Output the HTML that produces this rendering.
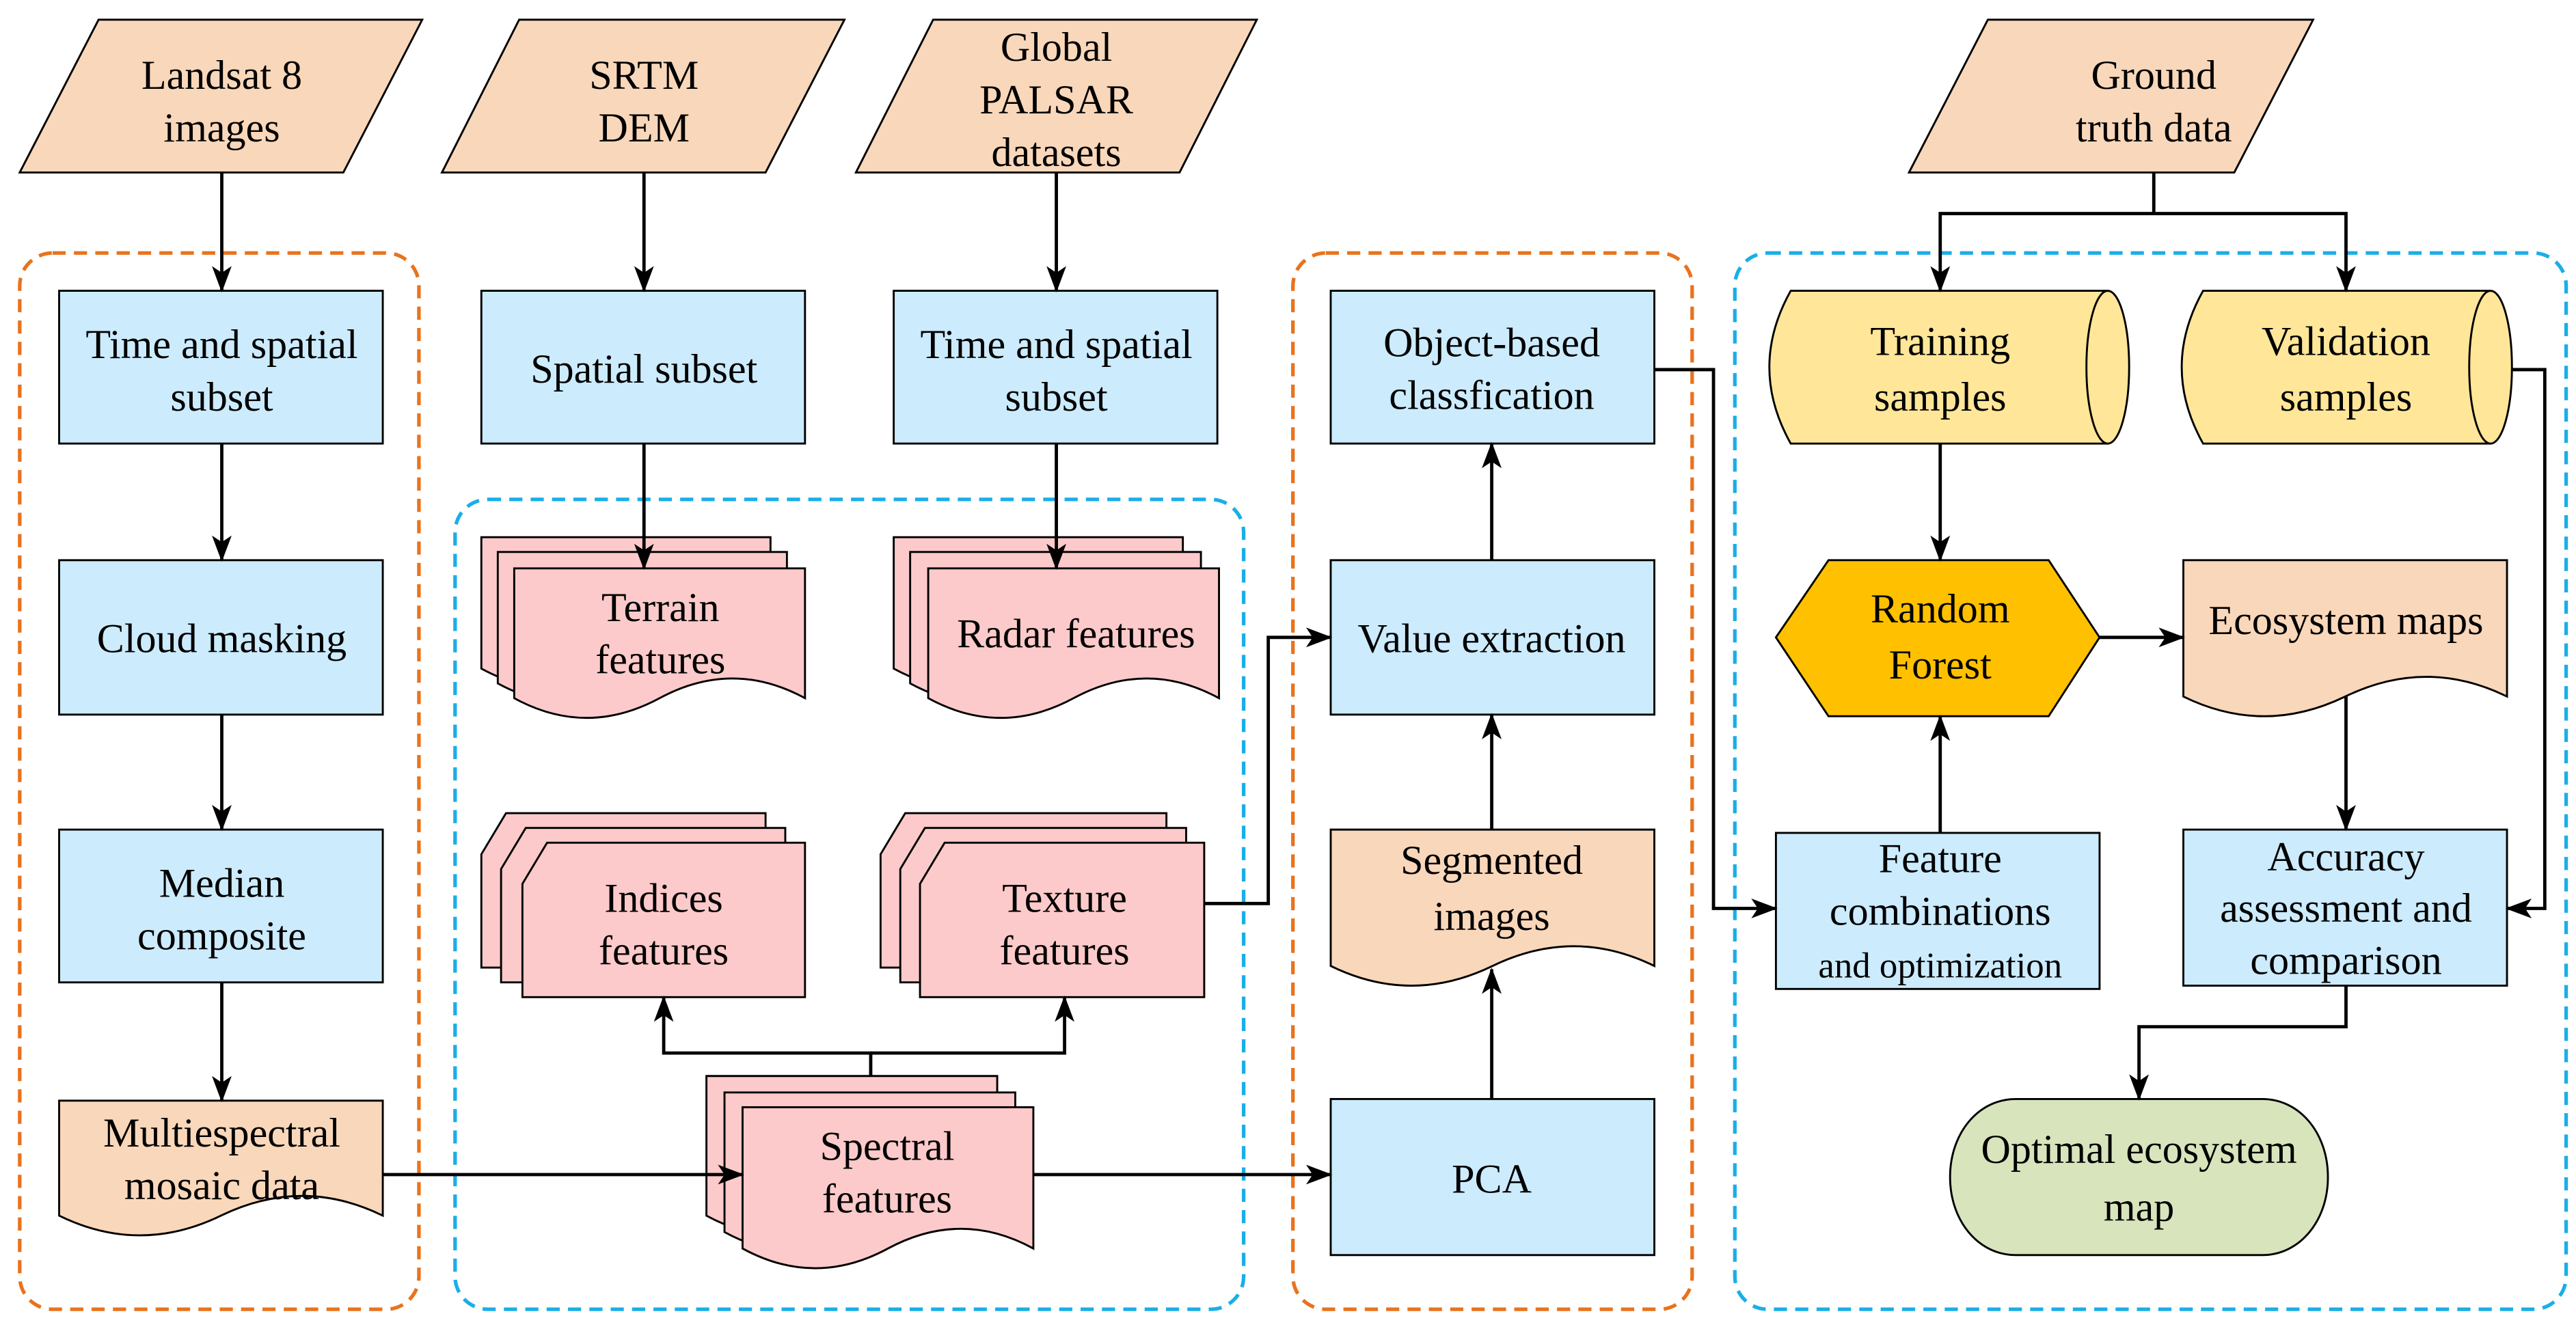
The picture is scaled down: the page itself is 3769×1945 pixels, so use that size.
<!DOCTYPE html>
<html><head><meta charset="utf-8"><style>
html,body{margin:0;padding:0;background:#fff}
svg{display:block}
text{font-family:"Liberation Serif","DejaVu Serif","Noto Serif CJK SC","Times New Roman",serif;font-size:25px;fill:#000;text-anchor:middle}
</style></head><body>
<svg width="3769" height="1945" viewBox="0 0 1568 809" preserveAspectRatio="none" xmlns="http://www.w3.org/2000/svg">
<defs>
<marker id="a" markerWidth="16" markerHeight="12" refX="15" refY="6" orient="auto" markerUnits="userSpaceOnUse">
<path d="M0,0 L16,6 L0,12 L4,6 Z" fill="#000"/></marker>
</defs>
<g fill="none" stroke-width="2.2" stroke-dasharray="8,5">
<rect x="12" y="154" width="243" height="643" rx="20" stroke="#E8731E"/>
<rect x="787" y="154" width="243" height="643" rx="20" stroke="#E8731E"/>
<rect x="277" y="304" width="480" height="493" rx="20" stroke="#1AAEE8"/>
<rect x="1056" y="154" width="506" height="643" rx="20" stroke="#1AAEE8"/>
</g>
<g stroke="#000" stroke-width="1.2">
<path d="M60,12 H257 L209,105 H12 Z" fill="#F9D7BA"/>
<path d="M316,12 H514 L466,105 H269 Z" fill="#F9D7BA"/>
<path d="M568,12 H765 L718,105 H521 Z" fill="#F9D7BA"/>
<path d="M1210,12 H1408 L1360,105 H1162 Z" fill="#F9D7BA"/>
<g fill="#CCEBFC">
<rect x="36" y="177" width="197" height="93"/>
<rect x="36" y="341" width="197" height="94"/>
<rect x="36" y="505" width="197" height="93"/>
<rect x="293" y="177" width="197" height="93"/>
<rect x="544" y="177" width="197" height="93"/>
<rect x="810" y="177" width="197" height="93"/>
<rect x="810" y="341" width="197" height="94"/>
<rect x="810" y="669" width="197" height="95"/>
<rect x="1081" y="507" width="197" height="95"/>
<rect x="1329" y="505" width="197" height="95"/>
</g>
<g fill="#F9D7BA">
<path d="M36,670 H233 V740 Q184,764 134.5,740 Q85,716 36,740 Z" transform="matrix(-1,0,0,1,269,0)"/>
<path d="M810,505 H1007 V588 Q958,612 908.5,588 Q859,564 810,588 Z" transform="matrix(-1,0,0,1,1817,0)"/>
<path d="M1329,341 H1526 V424 Q1477,448 1427.5,424 Q1378,400 1329,424 Z" transform="matrix(-1,0,0,1,2855,0)"/>
</g>
<g fill="#FCCACA">
<path d="M293,327 H469 V407 Q425,431 381,407 Q337,383 293,407 Z" transform="matrix(-1,0,0,1,762,0)"/>
<path d="M303,336 H479 V416 Q435,440 391,416 Q347,392 303,416 Z" transform="matrix(-1,0,0,1,782,0)"/>
<path d="M313,346 H490 V425 Q446,449 401.5,425 Q357,401 313,425 Z" transform="matrix(-1,0,0,1,803,0)"/>
<path d="M544,327 H720 V407 Q676,431 632,407 Q588,383 544,407 Z" transform="matrix(-1,0,0,1,1264,0)"/>
<path d="M554,336 H731 V416 Q687,440 642.5,416 Q598,392 554,416 Z" transform="matrix(-1,0,0,1,1285,0)"/>
<path d="M565,346 H742 V425 Q698,449 653.5,425 Q609,401 565,425 Z" transform="matrix(-1,0,0,1,1307,0)"/>
<path d="M293,520 L308,495 H466 V589 H293 Z"/>
<path d="M305,529 L320,504 H478 V598 H305 Z"/>
<path d="M318,538 L333,513 H490 V607 H318 Z"/>
<path d="M536,520 L551,495 H710 V589 H536 Z"/>
<path d="M548,529 L563,504 H722 V598 H548 Z"/>
<path d="M560,538 L575,513 H733 V607 H560 Z"/>
<path d="M430,655 H607 V740 Q563,764 518.5,740 Q474,716 430,740 Z" transform="matrix(-1,0,0,1,1037,0)"/>
<path d="M441,665 H618 V750 Q574,774 529.5,750 Q485,726 441,750 Z" transform="matrix(-1,0,0,1,1059,0)"/>
<path d="M452,674 H629 V760 Q585,784 540.5,760 Q496,736 452,760 Z" transform="matrix(-1,0,0,1,1081,0)"/>
</g>
<g fill="#FFE699">
<path d="M1090,177 H1283 A13,46.5 0 0 1 1283,270 H1090 Q1064,223.5 1090,177 Z"/>
<path d="M1283,177 A13,46.5 0 0 0 1283,270" fill="none"/>
<path d="M1341,177 H1516 A13,46.5 0 0 1 1516,270 H1341 Q1315,223.5 1341,177 Z"/>
<path d="M1516,177 A13,46.5 0 0 0 1516,270" fill="none"/>
</g>
<path d="M1081,388 L1113,341 H1247 L1278,388 L1247,436 H1113 Z" fill="#FFC000"/>
<path d="M1227,669 H1377 C1400,669 1417,690 1417,716.5 C1417,743 1400,764 1377,764 H1227 C1204,764 1187,743 1187,716.5 C1187,690 1204,669 1227,669 Z" fill="#D8E4BC"/>
</g>
<g stroke="#000" stroke-width="2" fill="none" marker-end="url(#a)">
<path d="M135,105 V177"/><path d="M392,105 V177"/><path d="M643,105 V177"/>
<path d="M135,270 V341"/><path d="M135,435 V505"/><path d="M135,598 V670"/>
<path d="M392,270 V346"/><path d="M643,270 V346"/>
<path d="M233,715 H452"/><path d="M629,715 H810"/>
<path d="M530,655 V641 H404 V607"/><path d="M530,641 H648 V607"/>
<path d="M733,550 H772 V388 H810"/>
<path d="M908,669 V590"/><path d="M908,505 V435"/><path d="M908,341 V270"/>
<path d="M1007,225 H1043 V553 H1081"/>
<path d="M1311,105 V130 H1181 V177"/><path d="M1311,130 H1428 V177"/>
<path d="M1181,270 V341"/><path d="M1181,507 V436"/>
<path d="M1278,388 H1329"/><path d="M1428,424 V505"/>
<path d="M1529,225 H1549 V553 H1526"/>
<path d="M1428,600 V625 H1302 V669"/>
</g>
<g>
<text x="135" y="54">Landsat 8</text><text x="135" y="86">images</text>
<text x="392" y="54">SRTM</text><text x="392" y="86">DEM</text>
<text x="643" y="37">Global</text><text x="643" y="69">PALSAR</text><text x="643" y="101">datasets</text>
<text x="1311" y="54">Ground</text><text x="1311" y="86">truth data</text>
<text x="135" y="218">Time and spatial</text><text x="135" y="250">subset</text>
<text x="135" y="397">Cloud masking</text>
<text x="135" y="546">Median</text><text x="135" y="578">composite</text>
<text x="135" y="698">Multiespectral</text><text x="135" y="730">mosaic data</text>
<text x="392" y="233">Spatial subset</text>
<text x="643" y="218">Time and spatial</text><text x="643" y="250">subset</text>
<text x="402" y="378">Terrain</text><text x="402" y="410">features</text>
<text x="655" y="394">Radar features</text>
<text x="404" y="555">Indices</text><text x="404" y="587">features</text>
<text x="648" y="555">Texture</text><text x="648" y="587">features</text>
<text x="540" y="706">Spectral</text><text x="540" y="738">features</text>
<text x="908" y="217">Object-based</text><text x="908" y="249">classfication</text>
<text x="908" y="397">Value extraction</text>
<text x="908" y="532">Segmented</text><text x="908" y="566">images</text>
<text x="908" y="726">PCA</text>
<text x="1181" y="216">Training</text><text x="1181" y="250">samples</text>
<text x="1428" y="216">Validation</text><text x="1428" y="250">samples</text>
<text x="1181" y="379">Random</text><text x="1181" y="413">Forest</text>
<text x="1428" y="386">Ecosystem maps</text>
<text x="1181" y="531">Feature</text><text x="1181" y="563">combinations</text><text x="1181" y="595" style="font-size:22px">and optimization</text>
<text x="1428" y="530">Accuracy</text><text x="1428" y="561">assessment and</text><text x="1428" y="593">comparison</text>
<text x="1302" y="708">Optimal ecosystem</text><text x="1302" y="743">map</text>
</g>
</svg>
</body></html>
